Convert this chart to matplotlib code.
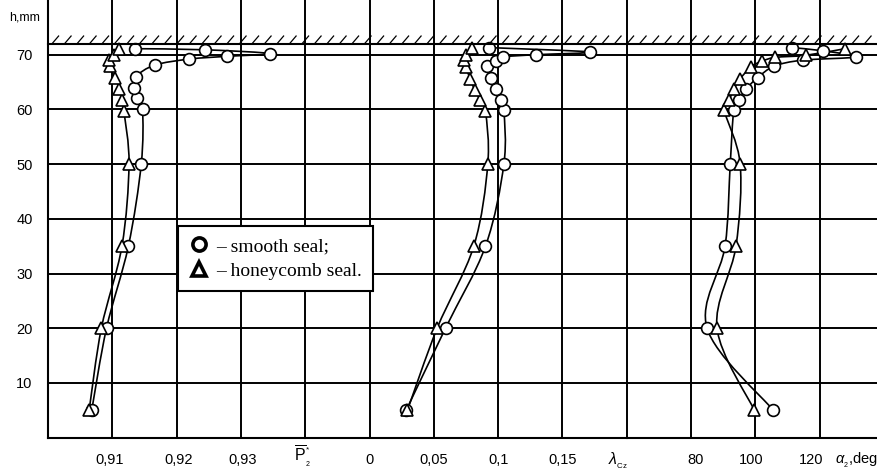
import numpy as np
import matplotlib
matplotlib.use("Agg")
import matplotlib.pyplot as plt
from matplotlib.path import Path
from matplotlib.patches import PathPatch
from matplotlib.lines import Line2D
from matplotlib.collections import LineCollection
from matplotlib.transforms import blended_transform_factory, ScaledTranslation

plt.rcParams["font.family"] = ["Liberation Sans", "DejaVu Sans"]
plt.rcParams["mathtext.fontset"] = "custom"
plt.rcParams["mathtext.rm"] = "Liberation Sans"
plt.rcParams["mathtext.it"] = "Liberation Sans:italic"

# ---- data ----
# total pressure P*2, smooth seal (circles) and honeycomb seal (triangles)
h_p_smooth = [5, 20, 35, 50, 60, 62, 64, 66, 68.1, 69.2, 69.7, 70.2, 70.9, 71.1]
p_smooth = [0.9068, 0.9091, 0.9125, 0.9145, 0.9147, 0.9139, 0.9134, 0.9137,
            0.9166, 0.9220, 0.9278, 0.9346, 0.9244, 0.9135]
h_p_honey = [5, 20, 35, 50, 59.7, 61.7, 63.8, 65.8, 67.9, 69.0, 69.9, 71.0]
p_honey = [0.9064, 0.9083, 0.9115, 0.9126, 0.9118, 0.9115, 0.9111, 0.9104,
           0.9096, 0.9095, 0.9102, 0.9111]

# lambda_cz
h_l_smooth = [5, 20, 35, 50, 59.8, 61.7, 63.7, 65.8, 67.9, 68.9, 69.6, 70.0, 70.5, 71.3]
l_smooth = [0.0285, 0.0591, 0.0902, 0.1045, 0.1045, 0.1019, 0.0982, 0.0941,
            0.0915, 0.0980, 0.1040, 0.1294, 0.1713, 0.0928]
h_l_honey = [5, 20, 35, 50, 59.7, 61.7, 63.5, 65.5, 67.8, 69.0, 69.9, 71.3]
l_honey = [0.0295, 0.0526, 0.0811, 0.0920, 0.0902, 0.0863, 0.0819, 0.0785,
           0.0747, 0.0734, 0.0754, 0.0799]

# alpha_2, deg
h_a_smooth = [5, 20, 35, 50, 59.8, 61.7, 63.7, 65.8, 67.9, 69.0, 69.6, 70.7, 71.3]
a_smooth = [105.6, 85.0, 90.6, 92.2, 93.3, 95.0, 97.1, 100.7, 105.9, 114.7,
            131.3, 121.2, 111.3]
h_a_honey = [5, 20, 35, 50, 59.8, 61.7, 63.7, 65.6, 67.8, 68.8, 69.5, 69.9, 71.1]
a_honey = [99.7, 88.1, 94.0, 95.3, 90.4, 91.9, 93.3, 95.3, 98.7, 102.0,
           106.2, 115.8, 127.9]

h_ticks = [10, 20, 30, 40, 50, 60, 70]
wall_h = 72

# ---- layout (pixels of the 877x472 picture) ----
W, H = 877, 472
x0, unit = 48, 64.3
y_bottom = 34.4

fig = plt.figure(figsize=(W / 100, H / 100), dpi=100)


def make_ax(u_start, u_width, xlim):
    left = (x0 + u_start * unit) / W
    width = min(u_width * unit, W - (x0 + u_start * unit)) / W
    ax = fig.add_axes([left, y_bottom / H, width, 1 - y_bottom / H])
    ax.set_xlim(*xlim)
    ax.set_ylim(0, 80)
    ax.set_yticks(h_ticks)
    for s in ["top", "right", "left"]:
        ax.spines[s].set_visible(False)
    ax.spines["bottom"].set_linewidth(1.5)
    ax.grid(True, color="black", linewidth=1.4)
    ax.tick_params(axis="both", length=0, labelsize=10.5, pad=11)
    ax.set_axisbelow(True)
    return ax


ax_p = make_ax(0, 4, (0.90, 0.94))
ax_l = make_ax(4, 5, (-0.05, 0.20))
ax_a = make_ax(9, 3.9, (60, 60 + (W - x0 - 9 * unit) / unit * 20))

ax_p.spines["left"].set_visible(True)
ax_p.spines["left"].set_linewidth(1.5)
ax_p.set_yticklabels([str(v) for v in h_ticks])
for ax in (ax_l, ax_a):
    ax.tick_params(axis="y", labelleft=False)

ax_p.set_xticks([0.91, 0.92, 0.93, 0.94])
ax_p.set_xticklabels(["0,91", "0,92", "0,93", ""])
ax_l.set_xticks([-0.05, 0, 0.05, 0.1, 0.15, 0.20])
ax_l.set_xticklabels(["", "0", "0,05", "0,1", "0,15", ""])
ax_a.set_xticks([60, 80, 100, 120])
ax_a.set_xticklabels(["", "80", "100", "120"])

# small nudges of the labels, as in the picture
fig.canvas.draw()
for lab, dx in zip(ax_a.get_xticklabels(), [0, 5, -4, -8]):
    lab.set_transform(lab.get_transform() + ScaledTranslation(dx / 100, 0, fig.dpi_scale_trans))
for lab, dx in zip(ax_p.get_xticklabels(), [-3, 2, 2, 0]):
    lab.set_transform(lab.get_transform() + ScaledTranslation(dx / 100, 0, fig.dpi_scale_trans))

# axis names placed in the tick label row
ax_p.text(0.9392, -0.016, r"$\overline{\mathrm{P}}$", transform=ax_p.get_xaxis_transform(),
          ha="center", va="top", fontsize=11.5)
ax_p.text(0.94005, -0.02, "*", transform=ax_p.get_xaxis_transform(),
          ha="left", va="top", fontsize=6)
ax_p.text(0.94005, -0.054, "2", transform=ax_p.get_xaxis_transform(),
          ha="left", va="top", fontsize=5)
ax_l.text(0.1935, -0.03, r"$\lambda_{_{\mathrm{Cz}}}$", transform=ax_l.get_xaxis_transform(),
          ha="center", va="top", fontsize=11.5)
ax_a.text(131.5, -0.03, r"$\alpha_{_2}$,deg", transform=ax_a.get_xaxis_transform(),
          ha="center", va="top", fontsize=10.5)


def smooth_curve(ax, xs, ys):
    # Catmull-Rom through the measured points, drawn as cubic Bezier path
    pts = np.column_stack([xs, ys]).astype(float)
    n = len(pts)
    verts = [pts[0]]
    codes = [Path.MOVETO]
    for i in range(n - 1):
        p0 = pts[max(i - 1, 0)]
        p1 = pts[i]
        p2 = pts[i + 1]
        p3 = pts[min(i + 2, n - 1)]
        verts += [p1 + (p2 - p0) / 6, p2 - (p3 - p1) / 6, p2]
        codes += [Path.CURVE4] * 3
    ax.add_patch(PathPatch(Path(verts, codes), fill=False, edgecolor="black",
                           linewidth=1.2, zorder=3))


def series(ax, xs, ys, marker):
    smooth_curve(ax, xs, ys)
    ax.plot(xs, ys, linestyle="none", marker=marker, markersize=8.5 if marker == "o" else 9,
            markerfacecolor="white", markeredgecolor="black", markeredgewidth=1.2,
            zorder=4, clip_on=False)


series(ax_p, p_smooth, h_p_smooth, "o")
series(ax_p, p_honey, h_p_honey, "^")
series(ax_l, l_smooth, h_l_smooth, "o")
series(ax_l, l_honey, h_l_honey, "^")
series(ax_a, a_smooth, h_a_smooth, "o")
series(ax_a, a_honey, h_a_honey, "^")

# hatched wall at h = 72
tr = blended_transform_factory(fig.transFigure, ax_p.transData)
fig.add_artist(Line2D([x0 / W, 1], [wall_h, wall_h], transform=tr,
                      color="black", linewidth=1.5))
hx = np.arange(x0 + 4, W, 12.5) / W
segs = [[(x, wall_h), (x + 7 / W, wall_h + 1.5)] for x in hx]
fig.add_artist(LineCollection(segs, transform=tr, colors="black", linewidths=0.9))

fig.text(25 / W, 1 - 17 / H, "h,mm", ha="center", va="center", fontsize=9)

handles = [
    Line2D([], [], linestyle="none", marker="o", markersize=9.5, markerfacecolor="white",
           markeredgecolor="black", markeredgewidth=2.6),
    Line2D([], [], linestyle="none", marker="^", markersize=10.5, markerfacecolor="white",
           markeredgecolor="black", markeredgewidth=2.6),
]
leg = fig.legend(handles, ["\u2013 smooth seal;", "\u2013 honeycomb seal."],
                 loc="upper left", bbox_to_anchor=(178 / W, 1 - 226 / H),
                 borderaxespad=0, fancybox=False, framealpha=1,
                 edgecolor="black", handlelength=1.0, handletextpad=0.35,
                 borderpad=0.6, labelspacing=0.35,
                 prop={"family": "Liberation Serif", "size": 14})
leg.get_frame().set_linewidth(1.5)

fig.savefig("out.png", dpi=100)
